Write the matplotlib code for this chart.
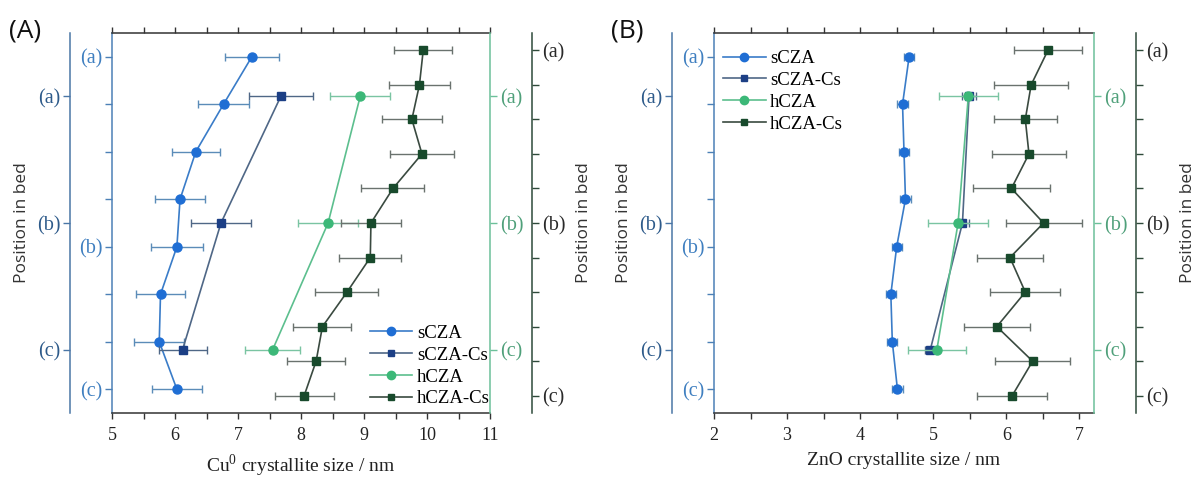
import numpy as np
import matplotlib
matplotlib.use("Agg")
import matplotlib.pyplot as plt
from matplotlib.lines import Line2D
from matplotlib.ticker import AutoMinorLocator

plt.rcParams['font.family'] = ['Liberation Serif', 'DejaVu Serif']
plt.rcParams['font.size'] = 12
plt.rcParams['mathtext.fontset'] = 'custom'
plt.rcParams['mathtext.rm'] = 'Liberation Serif'

# bed positions for each sample set (a = inlet, c = outlet)
pos_scza = np.arange(8)
pos_short = np.arange(3)
pos_hcza_cs = np.arange(11)
abc_scza = [0, 4, 7]
abc_short = [0, 1, 2]
abc_hcza_cs = [0, 5, 10]
abc_labels = ["(a)", "(b)", "(c)"]

# (A) Cu0 crystallite size / nm
cu_scza = [7.22, 6.77, 6.33, 6.08, 6.03, 5.77, 5.75, 6.03]
cu_scza_err = [0.43, 0.41, 0.38, 0.39, 0.41, 0.39, 0.40, 0.40]
cu_scza_cs = [7.68, 6.73, 6.12]
cu_scza_cs_err = [0.51, 0.47, 0.38]
cu_hcza = [8.94, 8.43, 7.55]
cu_hcza_err = [0.48, 0.47, 0.44]
cu_hcza_cs = [9.94, 9.88, 9.76, 9.92, 9.46, 9.11, 9.10, 8.73, 8.34, 8.24, 8.05]
cu_hcza_cs_err = [0.46, 0.48, 0.48, 0.51, 0.50, 0.47, 0.49, 0.50, 0.46, 0.46, 0.47]

# (B) ZnO crystallite size / nm
zno_scza = [4.67, 4.58, 4.60, 4.62, 4.50, 4.42, 4.44, 4.51]
zno_scza_err = [0.07, 0.07, 0.07, 0.07, 0.07, 0.07, 0.07, 0.07]
zno_scza_cs = [5.49, 5.40, 4.96]
zno_scza_cs_err = [0.09, 0.09, 0.07]
zno_hcza = [5.48, 5.34, 5.05]
zno_hcza_err = [0.40, 0.41, 0.40]
zno_hcza_cs = [6.57, 6.34, 6.26, 6.31, 6.07, 6.51, 6.05, 6.26, 5.87, 6.36, 6.08]
zno_hcza_cs_err = [0.46, 0.51, 0.43, 0.50, 0.53, 0.52, 0.45, 0.48, 0.45, 0.51, 0.48]

names = ["sCZA", "sCZA-Cs", "hCZA", "hCZA-Cs"]

STYLE = {
    "sCZA":    dict(mc="#1f6ed4", lc="#3a7cc8", ec="#5b8cb8", m="o", ms=6.5),
    "sCZA-Cs": dict(mc="#1c3f85", lc="#4f6786", ec="#4f6786", m="s", ms=5.5),
    "hCZA":    dict(mc="#3cb878", lc="#5cbf8e", ec="#7ac4a2", m="o", ms=6.5),
    "hCZA-Cs": dict(mc="#184a2c", lc="#3a4a40", ec="#6a726e", m="s", ms=5.5),
}
AXCOL = {
    "sCZA":    ("#4c80b6", "#3f7fc0"),
    "sCZA-Cs": ("#4a76a6", "#2d5a8a"),
    "hCZA":    ("#6cc09a", "#4fa07a"),
    "hCZA-Cs": ("#2e4a3a", "#2a2a2a"),
}
OUT = 42 * 72 / 100  # offset of the outer y spines in points


def style_yaxis(a, side, name, npos, abc):
    spine_c, label_c = AXCOL[name]
    a.set_ylim(npos - 0.5, -0.5)
    a.set_yticks(abc)
    a.set_yticklabels(abc_labels)
    minor = [p for p in range(npos) if p not in abc]
    a.set_yticks(minor, minor=True)
    a.spines[side].set_color(spine_c)
    a.spines[side].set_linewidth(1.1)
    a.tick_params(axis="y", which="both", direction="out", length=5,
                  width=1.0, color=spine_c, labelcolor=label_c, labelsize=14.5,
                  pad=2)


def draw(ax, key, pos, vals, errs):
    s = STYLE[key]
    ax.errorbar(vals, pos, xerr=errs, fmt="none", ecolor=s["ec"],
                elinewidth=1.0, capsize=3.2, capthick=1.0, zorder=2)
    ax.plot(vals, pos, color=s["lc"], lw=1.2, marker=s["m"], ms=s["ms"],
            mfc=s["mc"], mec=s["mc"], zorder=3)


def panel(fig, rect, series, xlim, xticks, xlabel, tag, legend_loc, legend_anchor):
    ax = fig.add_axes(rect)
    ax_scs = ax.twinx()
    ax_h = ax.twinx()
    ax_hcs = ax.twinx()

    # inner left: sCZA
    ax.spines["right"].set_visible(False)
    for s in ["top", "bottom"]:
        ax.spines[s].set_color("#333333")
        ax.spines[s].set_linewidth(1.1)
    style_yaxis(ax, "left", "sCZA", 8, abc_scza)

    # outer left: sCZA-Cs
    ax_scs.yaxis.tick_left()
    ax_scs.spines["left"].set_position(("outward", OUT))
    for s in ["right", "top", "bottom"]:
        ax_scs.spines[s].set_visible(False)
    ax_scs.spines["left"].set_visible(True)
    style_yaxis(ax_scs, "left", "sCZA-Cs", 3, abc_short)
    ax_scs.tick_params(axis="y", which="minor", length=0)

    # inner right: hCZA
    for s in ["left", "top", "bottom"]:
        ax_h.spines[s].set_visible(False)
    style_yaxis(ax_h, "right", "hCZA", 3, abc_short)

    # outer right: hCZA-Cs
    ax_hcs.spines["right"].set_position(("outward", OUT))
    for s in ["left", "top", "bottom"]:
        ax_hcs.spines[s].set_visible(False)
    style_yaxis(ax_hcs, "right", "hCZA-Cs", 11, abc_hcza_cs)

    axes = [ax, ax_scs, ax_h, ax_hcs]
    positions = [pos_scza, pos_short, pos_short, pos_hcza_cs]
    for a, key, p, (v, e) in zip(axes, names, positions, series):
        draw(a, key, p, v, e)

    ax.set_xlim(*xlim)
    ax.set_xticks(xticks)
    ax.xaxis.set_minor_locator(AutoMinorLocator(2))
    ax.tick_params(axis="x", which="both", top=True, labeltop=False,
                   direction="out", length=4, width=1.0, color="#333333",
                   labelsize=13, labelcolor="#222222", pad=6)
    ax.set_xlabel(xlabel, fontsize=14, labelpad=6, color="#222222")

    handles = [Line2D([], [], color=STYLE[k]["lc"], lw=1.2, marker=STYLE[k]["m"],
                      ms=STYLE[k]["ms"] - 0.5, mfc=STYLE[k]["mc"], mec=STYLE[k]["mc"])
               for k in names]
    ax_hcs.legend(handles, names, loc=legend_loc, bbox_to_anchor=legend_anchor,
                  frameon=False, fontsize=13.5, handlelength=2.25,
                  handletextpad=0.25, labelspacing=0.25, borderaxespad=0.0)

    x0, y0, w, h = rect
    yc = y0 + h / 2
    fig.text(x0 - 0.0755, yc, "Position in bed", rotation=90, ha="center",
             va="center", family="Open Sans", fontsize=12.5, color="#333333")
    fig.text(x0 + w + 0.079, yc, "Position in bed", rotation=90, ha="center",
             va="center", family="Open Sans", fontsize=12.5, color="#333333")
    fig.text(x0 - 0.086, 0.935, tag, ha="left", va="center",
             family="Open Sans", fontsize=19, color="#111111")
    return ax


fig = plt.figure(figsize=(11.95, 4.78), dpi=100)
fig.patch.set_facecolor("white")

panel(fig, [112 / 1195, 65 / 478, 378 / 1195, 380 / 478],
      [(cu_scza, cu_scza_err), (cu_scza_cs, cu_scza_cs_err),
       (cu_hcza, cu_hcza_err), (cu_hcza_cs, cu_hcza_cs_err)],
      (5, 11), [5, 6, 7, 8, 9, 10, 11], r"Cu$^{\mathrm{0}}$ crystallite size / nm",
      "(A)", "lower right", (1.02, -0.005))

panel(fig, [714 / 1195, 65 / 478, 380 / 1195, 380 / 478],
      [(zno_scza, zno_scza_err), (zno_scza_cs, zno_scza_cs_err),
       (zno_hcza, zno_hcza_err), (zno_hcza_cs, zno_hcza_cs_err)],
      (2, 7.2), [2, 3, 4, 5, 6, 7], "ZnO crystallite size / nm",
      "(B)", "upper left", (0.005, 0.975))

fig.savefig("out.png", dpi=100)
